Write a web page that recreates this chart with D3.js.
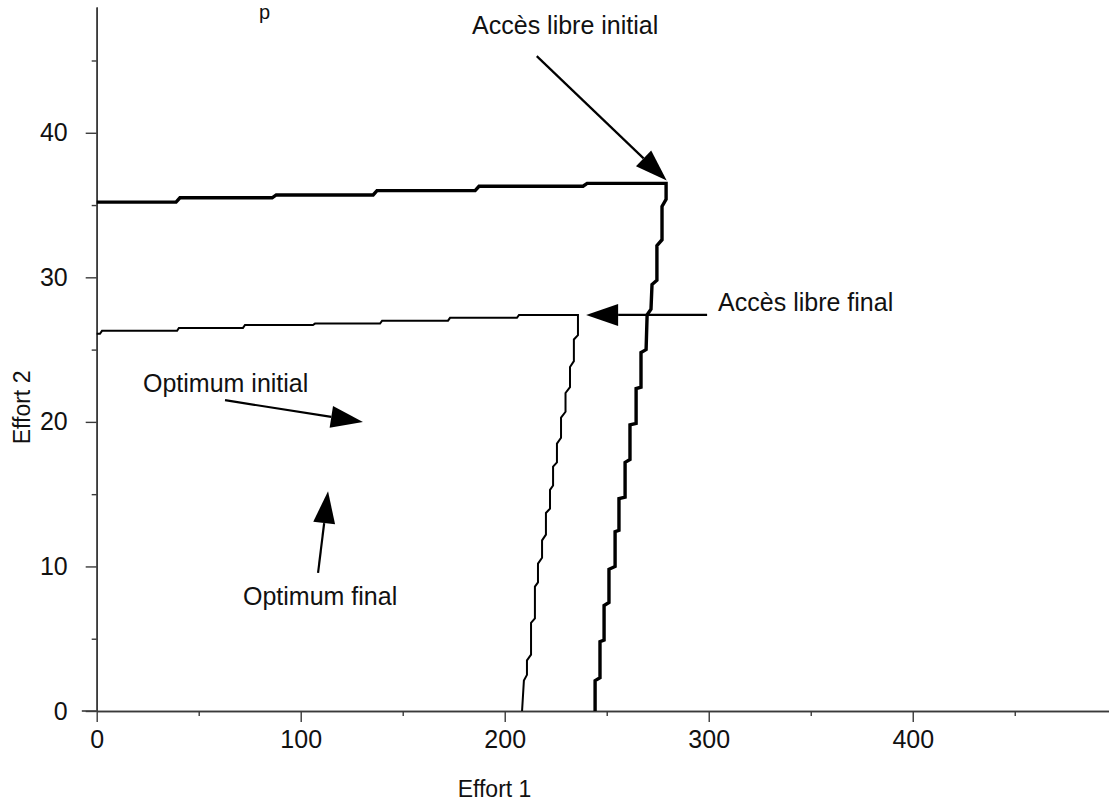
<!DOCTYPE html>
<html><head><meta charset="utf-8">
<script src="https://cdn.jsdelivr.net/npm/d3@7"></script>
<style>body{margin:0;background:#fff}svg{display:block}text{font-family:"Liberation Sans",Arial,sans-serif;fill:#111}</style>
</head><body><svg id="c" width="1109" height="803"></svg>
<script>
// Accès libre initial (thick curve): [Effort 1, Effort 2]
const libreInitial = [[0,35.2],[38.9,35.2],[40.8,35.5],[86,35.5],[88,35.7],[135.5,35.7],[137.4,36.0],[185.5,36.0],[187.4,36.3],[238.4,36.3],[240.4,36.5],[279.1,36.5],
 [279.1,35.4],[277.1,34.9],[277.1,32.6],[274.6,32.2],[274.6,29.8],[272.2,29.5],[271.7,27.8],[269.8,27.4],[269.3,25.0],[266.8,24.8],[266.8,22.4],[264.4,22.3],[264.4,19.9],[261.4,19.8],[261.4,17.4],[259.0,17.2],[259.0,14.8],[256.0,14.7],[256.0,12.5],[254.1,12.4],[254.1,10.0],[251.1,9.8],[251.1,7.5],[248.7,7.3],[248.7,4.9],[246.7,4.8],[246.7,2.3],[244.3,2.1],[244.3,0]];
// Accès libre final (thin curve)
const libreFinal = [[0,26.1],[1.6,26.1],[2.6,26.3],[39.4,26.3],[40.3,26.5],[71.7,26.5],[72.7,26.7],[106.0,26.7],[107.0,26.8],[138.9,26.8],[139.9,27.0],[172.2,27.0],[173.2,27.2],[206.0,27.2],[207.0,27.4],[235.9,27.4],
 [235.9,26.0],[233.9,25.7],[233.9,24.2],[232.0,23.8],[232.0,22.4],[229.8,22.0],[229.8,20.7],[227.6,20.3],[227.6,18.9],[225.6,18.5],[225.6,17.2],[223.7,16.9],[223.7,15.6],[222.2,15.3],[222.2,14.0],[220.2,13.7],[220.2,12.2],[218.3,11.8],[218.3,10.6],[216.3,10.2],[216.3,8.9],[214.8,8.6],[214.8,6.4],[212.9,6.1],[212.9,3.9],[210.9,3.5],[210.9,2.5],[209.4,2.1],[208.5,0]];
// Annotations: label, label anchor [x,y], arrow from [x,y], arrow tip [x,y]
const labels = ["Accès libre initial","Accès libre final","Optimum initial","Optimum final"];
const labelPos = [[184.0,46.8],[304.6,27.7],[22.7,22.1],[71.7,7.3]];
const arrowFrom = [[215.7,45.3],[299.2,27.4],[62.9,21.5],[108.5,9.55]];
const arrowTip = [[279.4,36.7],[239.9,27.4],[130.5,20.0],[113.4,15.2]];
const xMajor = [0,100,200,300,400], xMinor = [50,150,250,350,450];
const yMajor = [0,10,20,30,40], yMinor = [5,15,25,35,45];
const xTitle = "Effort 1", yTitle = "Effort 2";

const svg = d3.select("#c");
const x = d3.scaleLinear().domain([0,496.2]).range([96.7,1109]);
const y = d3.scaleLinear().domain([0,48.7]).range([711,7]);
const axisColor = "#3a3a3a";

// axes
const gx = svg.append("g").attr("transform",`translate(0,${y(0)})`);
gx.call(d3.axisBottom(x).tickValues(xMajor).tickSize(11).tickSizeOuter(0).tickFormat(d3.format("d")).tickPadding(8));
gx.append("g").call(d3.axisBottom(x).tickValues(xMinor).tickSize(5).tickSizeOuter(0).tickFormat(""));
gx.selectAll(".domain").attr("stroke",axisColor).attr("stroke-width",1.6);
gx.selectAll(".tick line").attr("stroke",axisColor).attr("stroke-width",1.4);
gx.selectAll(".tick text").attr("font-size",25).attr("fill","#111").attr("font-family","Liberation Sans, Arial, sans-serif");
gx.append("line").attr("x1",x(-7.3)).attr("x2",x(0)).attr("stroke",axisColor).attr("stroke-width",1.6);

const gy = svg.append("g").attr("transform",`translate(${x(0)},0)`);
gy.call(d3.axisLeft(y).tickValues(yMajor).tickSize(11).tickSizeOuter(0).tickFormat(d3.format("d")).tickPadding(18));
gy.append("g").call(d3.axisLeft(y).tickValues(yMinor).tickSize(5).tickSizeOuter(0).tickFormat(""));
gy.selectAll(".domain").attr("stroke",axisColor).attr("stroke-width",1.6);
gy.selectAll(".tick line").attr("stroke",axisColor).attr("stroke-width",1.4);
gy.selectAll(".tick text").attr("font-size",25).attr("fill","#111").attr("font-family","Liberation Sans, Arial, sans-serif");

svg.append("text").attr("x",x(195)).attr("y",797).attr("text-anchor","middle").attr("font-size",23).text(xTitle);
svg.append("text").attr("transform",`translate(30,${y(21)}) rotate(-90)`).attr("text-anchor","middle").attr("font-size",23).text(yTitle);

// title fragment at top (mostly cut off in the reference)
svg.append("text").attr("x",259).attr("y",19).attr("font-family","Liberation Serif, serif").attr("font-size",20).text("p");

const line = d3.line().x(d=>x(d[0])).y(d=>y(d[1]));
svg.append("path").datum(libreFinal).attr("d",line).attr("fill","none").attr("stroke","#000").attr("stroke-width",2);
svg.append("path").datum(libreInitial).attr("d",line).attr("fill","none").attr("stroke","#000").attr("stroke-width",3.4);

// annotations
labels.forEach((t,i)=>{
  svg.append("text").attr("x",x(labelPos[i][0])).attr("y",y(labelPos[i][1])).attr("font-size",25).text(t);
  const x0=x(arrowFrom[i][0]), y0=y(arrowFrom[i][1]), x1=x(arrowTip[i][0]), y1=y(arrowTip[i][1]);
  const ang=Math.atan2(y1-y0,x1-x0), L=32, W=11;
  const bx=x1-L*Math.cos(ang), by=y1-L*Math.sin(ang);
  svg.append("line").attr("x1",x0).attr("y1",y0).attr("x2",bx).attr("y2",by).attr("stroke","#000").attr("stroke-width",2.2);
  const px=-Math.sin(ang), py=Math.cos(ang);
  svg.append("path").attr("d",`M${x1},${y1}L${bx+W*px},${by+W*py}L${bx-W*px},${by-W*py}Z`).attr("fill","#000");
});
</script></body></html>
